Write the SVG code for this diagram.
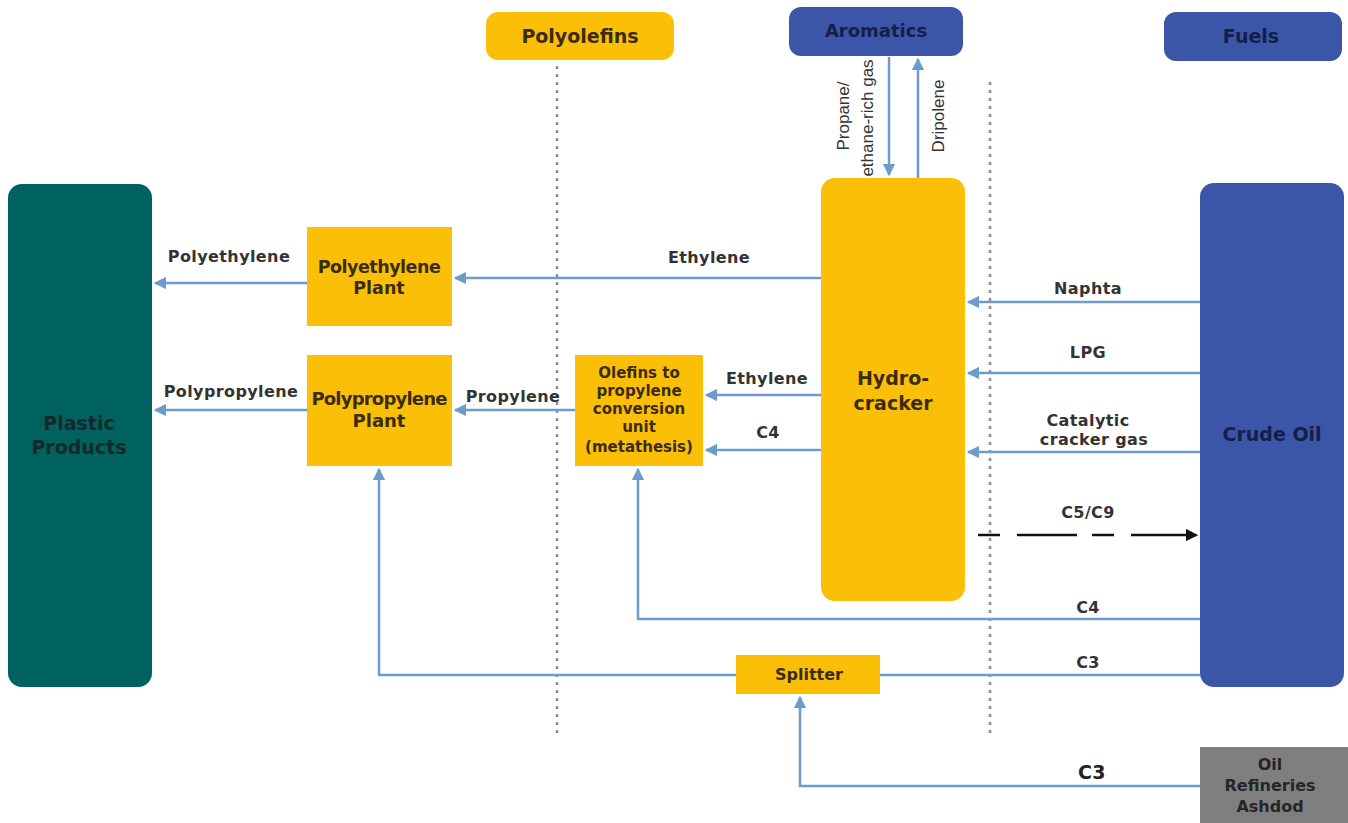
<svg xmlns="http://www.w3.org/2000/svg" width="1348" height="823" viewBox="0 0 1348 823">
<style>
.y{fill:#fcbf07}
.b{fill:#3b56a8}
.nt{font-family:"DejaVu Sans","Liberation Sans",sans-serif;font-weight:bold;fill:#3a2c0c;text-anchor:middle;dominant-baseline:central}
.bt{font-family:"DejaVu Sans","Liberation Sans",sans-serif;font-weight:bold;fill:#13204a;text-anchor:middle;dominant-baseline:central}
.lb{font-family:"DejaVu Sans","Liberation Sans",sans-serif;font-weight:bold;font-size:16px;letter-spacing:0.4px;fill:#333;text-anchor:middle;dominant-baseline:central}
.rl{font-family:"Liberation Sans",Arial,sans-serif;font-size:17px;fill:#333;text-anchor:middle;dominant-baseline:central}
.c{fill:none;stroke:#6c9bcc;stroke-width:2.5}
.dot{fill:none;stroke:#8a8f99;stroke-width:2.5;stroke-dasharray:3 5}
</style>
<defs>
<marker id="a" viewBox="0 0 10 10" refX="9" refY="5" markerWidth="5" markerHeight="5" orient="auto" markerUnits="strokeWidth">
<path d="M0,0 L10,5 L0,10 z" fill="#6c9bcc"/>
</marker>
<marker id="k" viewBox="0 0 10 10" refX="9" refY="5" markerWidth="5" markerHeight="5" orient="auto" markerUnits="strokeWidth">
<path d="M0,0 L10,5 L0,10 z" fill="#111"/>
</marker>
</defs>
<rect width="1348" height="823" fill="#fff"/>
<g id="dividers">
<line class="dot" x1="557" y1="66" x2="557" y2="733"/>
<line class="dot" x1="990" y1="82" x2="990" y2="735"/>
</g>
<g id="connectors">
<line class="c" x1="821" y1="278" x2="455" y2="278" marker-end="url(#a)"/>
<line class="c" x1="307" y1="283" x2="155" y2="283" marker-end="url(#a)"/>
<line class="c" x1="307" y1="410" x2="155" y2="410" marker-end="url(#a)"/>
<line class="c" x1="575" y1="410" x2="455" y2="410" marker-end="url(#a)"/>
<line class="c" x1="821" y1="395" x2="706" y2="395" marker-end="url(#a)"/>
<line class="c" x1="821" y1="450" x2="706" y2="450" marker-end="url(#a)"/>
<line class="c" x1="1200" y1="302" x2="968" y2="302" marker-end="url(#a)"/>
<line class="c" x1="1200" y1="373" x2="968" y2="373" marker-end="url(#a)"/>
<line class="c" x1="1200" y1="452" x2="968" y2="452" marker-end="url(#a)"/>
<line x1="978" y1="535" x2="1197" y2="535" stroke="#111" stroke-width="2.5" stroke-dasharray="22 17 60 15" marker-end="url(#k)"/>
<polyline class="c" points="1200,619 638,619 638,469" marker-end="url(#a)"/>
<line class="c" x1="1200" y1="675" x2="880" y2="675"/>
<polyline class="c" points="736,675 379,675 379,469" marker-end="url(#a)"/>
<polyline class="c" points="1200,786 800,786 800,697" marker-end="url(#a)"/>
<line class="c" x1="889" y1="57" x2="889" y2="175" marker-end="url(#a)"/>
<line class="c" x1="918" y1="178" x2="918" y2="59" marker-end="url(#a)"/>
</g>
<g id="labels">
<text class="lb" x="229" y="256">Polyethylene</text>
<text class="lb" x="231" y="391">Polypropylene</text>
<text class="lb" x="709" y="257">Ethylene</text>
<text class="lb" x="513" y="396">Propylene</text>
<text class="lb" x="767" y="378">Ethylene</text>
<text class="lb" x="768" y="432">C4</text>
<text class="lb" x="1088" y="288">Naphta</text>
<text class="lb" x="1088" y="352">LPG</text>
<text class="lb" x="1088" y="420">Catalytic</text>
<text class="lb" x="1094" y="439">cracker gas</text>
<text class="lb" x="1088" y="512">C5/C9</text>
<text class="lb" x="1088" y="607">C4</text>
<text class="lb" x="1088" y="662">C3</text>
<text class="lb" x="1092" y="772" style="font-size:19px;fill:#222">C3</text>
<text class="rl" transform="translate(843,116) rotate(-90)">Propane/</text>
<text class="rl" transform="translate(867,118) rotate(-90)">ethane-rich gas</text>
<text class="rl" transform="translate(938,116) rotate(-90)">Dripolene</text>
</g>
<g id="plastic-products">
<rect x="8" y="184" width="144" height="503" rx="14" fill="#00625f"/>
<text class="nt" x="79" y="423" font-size="19" style="fill:#16292a">Plastic</text>
<text class="nt" x="79" y="447" font-size="19" style="fill:#16292a">Products</text>
</g>
<g id="polyethylene-plant">
<rect class="y" x="307" y="227" width="145" height="99"/>
<text class="nt" x="379" y="267" font-size="17.5" letter-spacing="-0.5">Polyethylene</text>
<text class="nt" x="379" y="288" font-size="17.5">Plant</text>
</g>
<g id="polypropylene-plant">
<rect class="y" x="307" y="355" width="145" height="111"/>
<text class="nt" x="379" y="398" font-size="18" letter-spacing="-0.8">Polypropylene</text>
<text class="nt" x="379" y="420" font-size="18">Plant</text>
</g>
<g id="olefins-unit">
<rect class="y" x="575" y="355" width="128" height="111"/>
<text class="nt" x="639" y="373" font-size="15">Olefins to</text>
<text class="nt" x="639" y="391" font-size="15">propylene</text>
<text class="nt" x="639" y="409" font-size="15">conversion</text>
<text class="nt" x="639" y="427" font-size="15">unit</text>
<text class="nt" x="639" y="447" font-size="15">(metathesis)</text>
</g>
<g id="hydrocracker">
<rect class="y" x="821" y="178" width="144" height="423" rx="14"/>
<text class="nt" x="893" y="378" font-size="19">Hydro-</text>
<text class="nt" x="893" y="403" font-size="19">cracker</text>
</g>
<g id="crude-oil">
<rect class="b" x="1200" y="183" width="144" height="504" rx="14"/>
<text class="bt" x="1272" y="434" font-size="19">Crude Oil</text>
</g>
<g id="polyolefins">
<rect class="y" x="486" y="12" width="188" height="48" rx="12"/>
<text class="nt" x="580" y="36" font-size="19">Polyolefins</text>
</g>
<g id="aromatics">
<rect class="b" x="789" y="7" width="174" height="49" rx="12"/>
<text class="bt" x="876" y="30" font-size="18">Aromatics</text>
</g>
<g id="fuels">
<rect class="b" x="1164" y="12" width="178" height="49" rx="12"/>
<text class="bt" x="1251" y="36" font-size="19">Fuels</text>
</g>
<g id="splitter">
<rect class="y" x="736" y="655" width="144" height="39"/>
<text class="nt" x="809" y="674" font-size="16">Splitter</text>
</g>
<g id="oil-refineries">
<rect x="1200" y="747" width="148" height="76" fill="#7f7f7f"/>
<text class="nt" x="1270" y="764" font-size="16" style="fill:#262626">Oil</text>
<text class="nt" x="1270" y="785" font-size="16" style="fill:#262626">Refineries</text>
<text class="nt" x="1270" y="806" font-size="16" style="fill:#262626">Ashdod</text>
</g>
</svg>
